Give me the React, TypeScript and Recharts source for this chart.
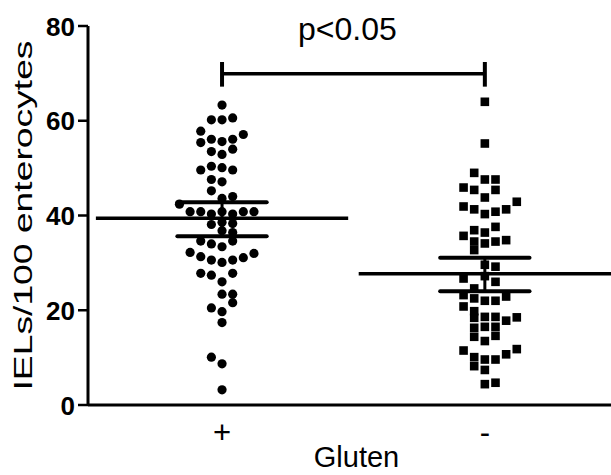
import { ScatterChart, Scatter, XAxis, YAxis, ReferenceLine } from 'recharts';

const FONT = '"Liberation Sans", Arial, sans-serif';

// group positions on the x axis and their tick labels
const GROUP_X = [1, 3];
const GROUP_LABELS = ['+', '-'];
const Y_TICKS = [0, 20, 40, 60, 80];
const Y_TITLE = 'IELs/100 enterocytes';
const X_TITLE = 'Gluten';
const P_TEXT = 'p<0.05';

// [column offset in the swarm, IELs/100 enterocytes]
const GLUTEN_PLUS = [
  [0, 63.3],
  [-1, 60.2], [0, 60.2], [1, 60.6],
  [-2, 57.8], [2, 57.1],
  [-2, 55.4], [-1, 56.1], [0, 55.6], [1, 56.1],
  [-1, 53.5], [0, 52.9], [1, 54],
  [-2, 49.6], [-1, 50.4], [0, 50.1], [1, 49.6],
  [-1, 47.6], [0, 47.1],
  [-1, 45.2],
  [0, 43.6], [1, 44],
  [-4, 42.4],
  [-3, 40.8], [-2, 40.8], [-1, 40.3], [0, 40.8], [1, 40.3], [2, 40.8], [3, 40.8],
  [-1, 38.1], [0, 38.6], [1, 38.3],
  [0, 36.8], [1, 36.4],
  [-2, 34.6], [-1, 34], [0, 33.4], [1, 34.6],
  [-3, 32.2], [-2, 31.3], [-1, 30.6], [0, 30.1], [1, 30.6], [2, 31.1], [3, 32],
  [-2, 27.8], [-1, 27.4], [0, 26], [1, 27.8],
  [0, 23.4], [1, 23.4], [1, 21.6],
  [-1, 20.5], [0, 19.7],
  [0, 17.4],
  [-1, 10.1], [0, 8.7],
  [0, 3.2],
];

const GLUTEN_MINUS = [
  [0, 64],
  [0, 55.2],
  [-1, 49],
  [0, 47.6], [1, 47.6],
  [-2, 45.9], [-1, 45.4], [1, 45.4],
  [0, 43.8],
  [3, 42.9],
  [-2, 41.9], [-1, 41.3], [0, 40.3], [1, 40.8], [2, 41.3],
  [1, 37.6],
  [-1, 36.9], [0, 36.4],
  [-2, 35.7],
  [-1, 34.5], [0, 34.1], [1, 34.5], [2, 34.8],
  [-1, 32.7],
  [1, 29.2], [0, 29.6],
  [-2, 26.7], [1, 26], [0, 27.2],
  [-1, 24.6],
  [-2, 23.2], [-1, 22.5], [0, 22], [1, 22], [2, 22.9],
  [-2, 20.8], [-1, 19.8],
  [-1, 18.4], [0, 18.6], [1, 18.6], [2, 17.8], [3, 18.5],
  [-1, 16.3], [0, 16.5], [1, 16.5],
  [-1, 14.4], [1, 14.6],
  [0, 13.5],
  [-2, 11.5], [-1, 10.1], [0, 9.6], [1, 9.6], [2, 10.7], [3, 11.8],
  [-1, 8.2], [0, 7.4],
  [0, 4.4], [1, 4.7],
];

// mean and SEM per group
const MEANS = [39.4, 27.7];
const SEM_UPPER = [42.8, 31.1];
const SEM_LOWER = [35.6, 24.0];

// significance bracket
const BRACKET_Y = 69.9;
const BRACKET_TOP = 72.4;
const BRACKET_BOTTOM = 67.2;

const COL_STEP = 0.081;
const MEAN_HALF = 0.96;
const SEM_HALF = 0.34;

const toPoints = (pairs: number[][], gx: number) =>
  pairs.map(([c, v]) => ({ x: gx + c * COL_STEP, y: v }));

const CircleDot = (props: any) => <circle cx={props.cx} cy={props.cy} r={4.6} fill="#000" />;
const SquareDot = (props: any) => (
  <rect x={props.cx - 4.3} y={props.cy - 4.3} width={8.6} height={8.6} fill="#000" />
);

const XTick = (props: any) => (
  <text x={props.x} y={props.y + 21} textAnchor="middle" fontSize={31} fontFamily={FONT} fill="#000">
    {GROUP_LABELS[GROUP_X.indexOf(props.payload.value)] ?? ''}
  </text>
);

const YTick = (props: any) => (
  <text x={props.x} y={props.y + 9.5} textAnchor="end" fontSize={26} fontWeight="bold" fontFamily={FONT} fill="#000">
    {props.payload.value}
  </text>
);

const YLabel = (props: any) => {
  const vb = props.viewBox;
  const x = 32;
  const y = vb.y + vb.height / 2;
  return (
    <text x={x} y={y} transform={`rotate(-90, ${x}, ${y})`} textAnchor="middle" fontSize={25}
      fontFamily={FONT} fill="#000" textLength={350} lengthAdjust="spacingAndGlyphs">
      {Y_TITLE}
    </text>
  );
};

const XLabel = (props: any) => {
  const vb = props.viewBox;
  return (
    <text x={vb.x + vb.width / 2 + 7} y={vb.y + vb.height - 8} textAnchor="middle" fontSize={29}
      fontFamily={FONT} fill="#000">
      {X_TITLE}
    </text>
  );
};

const PLabel = (props: any) => {
  const vb = props.viewBox;
  return (
    <text x={vb.x + vb.width / 2 - 6} y={vb.y - 34} textAnchor="middle" fontSize={32}
      fontFamily={FONT} fill="#000">
      {P_TEXT}
    </text>
  );
};

export default function App() {
  const plusPts = toPoints(GLUTEN_PLUS, GROUP_X[0]);
  const minusPts = toPoints(GLUTEN_MINUS, GROUP_X[1]);

  return (
    <div style={{ position: 'absolute', left: 0, top: 0, background: '#fff' }}>
      <ScatterChart width={611} height={475} margin={{ top: 26, right: 0, bottom: 0, left: 0 }}>
        <XAxis type="number" dataKey="x" domain={[-0.02, 3.96]} ticks={GROUP_X} allowDataOverflow
          tickLine={false} tickSize={0} tickMargin={17} height={70}
          axisLine={{ stroke: '#000', strokeWidth: 3 }}
          tick={XTick}
          label={XLabel} />
        <YAxis type="number" dataKey="y" domain={[0, 80]} ticks={Y_TICKS} width={88}
          tickSize={10} tickMargin={3}
          axisLine={{ stroke: '#000', strokeWidth: 3 }}
          tickLine={{ stroke: '#000', strokeWidth: 2.5 }}
          tick={YTick}
          label={YLabel} />

        <Scatter data={plusPts} shape={CircleDot} isAnimationActive={false} />
        <Scatter data={minusPts} shape={SquareDot} isAnimationActive={false} />

        {GROUP_X.map((gx, i) => (
          <ReferenceLine key={`mean-${i}`} segment={[{ x: gx - MEAN_HALF, y: MEANS[i] }, { x: gx + MEAN_HALF, y: MEANS[i] }]}
            stroke="#000" strokeWidth={3.5} />
        ))}
        {GROUP_X.map((gx, i) => (
          <ReferenceLine key={`up-${i}`} segment={[{ x: gx - SEM_HALF, y: SEM_UPPER[i] }, { x: gx + SEM_HALF, y: SEM_UPPER[i] }]}
            stroke="#000" strokeWidth={4} strokeLinecap="round" />
        ))}
        {GROUP_X.map((gx, i) => (
          <ReferenceLine key={`lo-${i}`} segment={[{ x: gx - SEM_HALF, y: SEM_LOWER[i] }, { x: gx + SEM_HALF, y: SEM_LOWER[i] }]}
            stroke="#000" strokeWidth={4} strokeLinecap="round" />
        ))}
        {GROUP_X.map((gx, i) => (
          <ReferenceLine key={`v-${i}`} segment={[{ x: gx, y: SEM_LOWER[i] }, { x: gx, y: SEM_UPPER[i] }]}
            stroke="#000" strokeWidth={3} />
        ))}

        <ReferenceLine segment={[{ x: GROUP_X[0], y: BRACKET_Y }, { x: GROUP_X[1], y: BRACKET_Y }]}
          stroke="#000" strokeWidth={3.5} label={PLabel} />
        {GROUP_X.map((gx, i) => (
          <ReferenceLine key={`cap-${i}`} segment={[{ x: gx, y: BRACKET_BOTTOM }, { x: gx, y: BRACKET_TOP }]}
            stroke="#000" strokeWidth={4} />
        ))}
      </ScatterChart>
    </div>
  );
}
